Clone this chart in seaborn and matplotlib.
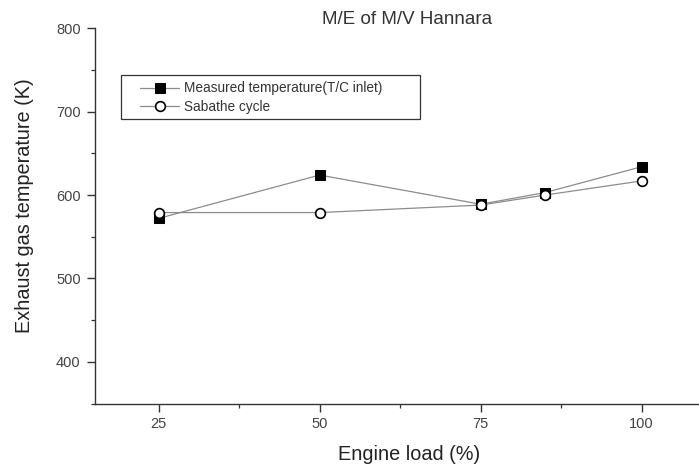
import matplotlib
matplotlib.use("Agg")
import matplotlib.pyplot as plt
from matplotlib.patches import Rectangle
from matplotlib.ticker import MultipleLocator
import seaborn as sns
import pandas as pd

# Engine load points and exhaust gas temperatures
engine_load = [25, 50, 75, 85, 100]
measured_temp = [572, 624, 589, 603, 634]
sabathe_temp = [579, 579, 588, 600, 617]

label_measured = "Measured temperature(T/C inlet)"
label_sabathe = "Sabathe cycle"

sns.set_theme(style="ticks")
plt.rcParams["font.family"] = ["Liberation Sans", "DejaVu Sans"]

df = pd.DataFrame({
    "load": engine_load * 2,
    "temp": measured_temp + sabathe_temp,
    "series": [label_measured] * len(engine_load) + [label_sabathe] * len(engine_load),
})

W, H = 699, 468
fig = plt.figure(figsize=(W / 100, H / 100), dpi=100)
ax = fig.add_axes([94.5 / W, 1 - 403.5 / H, 1 - 94.5 / W, (403.5 - 28.3) / H])

line_col = "#8c8c8c"
sns.lineplot(data=df[df.series == label_measured], x="load", y="temp", ax=ax,
             color=line_col, lw=0.9, marker="s", markersize=6.5,
             markerfacecolor="black", markeredgecolor="black",
             label=label_measured)
sns.lineplot(data=df[df.series == label_sabathe], x="load", y="temp", ax=ax,
             color=line_col, lw=0.9, marker="o", markersize=7,
             markerfacecolor="white", markeredgecolor="black", markeredgewidth=1.2,
             label=label_sabathe)

ax.set_xlim(15.05, 108.9)
ax.set_ylim(350, 800)
ax.xaxis.set_minor_locator(MultipleLocator(12.5))
ax.yaxis.set_minor_locator(MultipleLocator(50))
ax.set_yticks([400, 500, 600, 700, 800])
ax.set_xticks([25, 50, 75, 100])

for side in ["top", "right"]:
    ax.spines[side].set_visible(False)
for side in ["left", "bottom"]:
    ax.spines[side].set_color("#333333")
    ax.spines[side].set_linewidth(1.0)

ax.tick_params(which="major", direction="out", length=6, width=1.0,
               color="#333333", labelsize=10.5, labelcolor="#444444", pad=4)
ax.tick_params(which="minor", direction="out", length=3, width=0.9, color="#333333")

ax.set_xlabel("Engine load (%)", fontsize=14.3, color="#222222", va="center")
ax.set_ylabel("Exhaust gas temperature (K)", fontsize=14.3, color="#222222", va="center")
ax.xaxis.set_label_coords(409 / W, 1 - 455 / H, transform=fig.transFigure)
ax.yaxis.set_label_coords(24.5 / W, 1 - 205.5 / H, transform=fig.transFigure)

fig.text(407.5 / W, 1 - 20 / H, "M/E of M/V Hannara", ha="center", va="center",
         fontsize=13.5, color="#333333")

leg = ax.legend(loc="upper left", bbox_to_anchor=(135 / W, 1 - 76 / H),
                bbox_transform=fig.transFigure, frameon=False,
                fontsize=9.8, handlelength=2.8, handletextpad=0.4,
                borderpad=0.4, labelspacing=0.35, borderaxespad=0)
for t in leg.get_texts():
    t.set_color("#333333")

# legend frame, drawn separately for its wider margins
fig.patches.append(Rectangle((120.5 / W, 1 - 118.5 / H), (420 - 120.5) / W, (118.5 - 75) / H,
                             transform=fig.transFigure, fill=False,
                             edgecolor="#333333", linewidth=0.9, zorder=5))

fig.savefig("out.png", dpi=100)
